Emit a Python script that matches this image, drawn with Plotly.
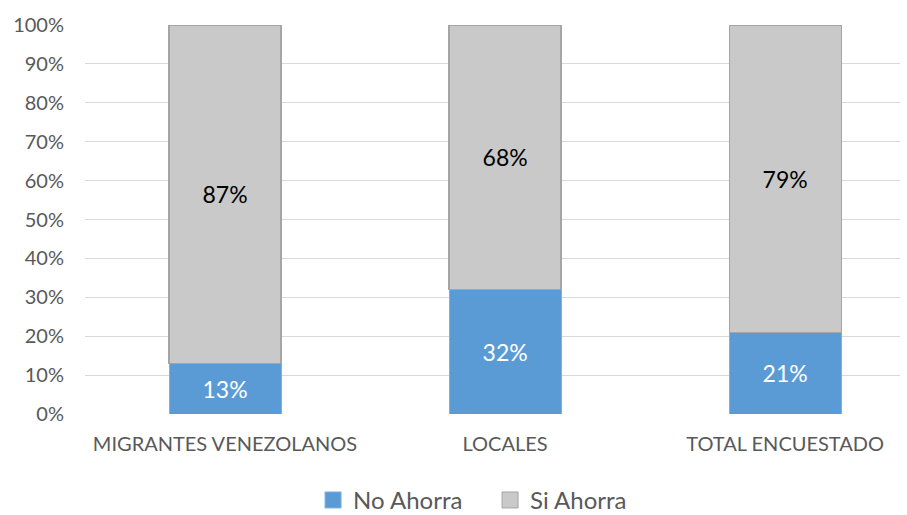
import plotly.graph_objects as go

categories = ["MIGRANTES VENEZOLANOS", "LOCALES", "TOTAL ENCUESTADO"]
no_ahorra = [13, 32, 21]
si_ahorra = [87, 68, 79]
tick_vals = [0, 10, 20, 30, 40, 50, 60, 70, 80, 90, 100]
tick_text = [f"{v}%" for v in tick_vals]

FONT = "Lato, 'Open Sans', sans-serif"
x = list(range(len(categories)))

fig = go.Figure()
fig.add_trace(go.Bar(
    x=x, y=no_ahorra, name="No Ahorra", width=0.4, showlegend=False,
    marker=dict(color="#5b9bd5", line=dict(color="#7fb0de", width=1)),
    text=[f"{v}%" for v in no_ahorra], textposition="inside",
    insidetextanchor="middle", constraintext="none",
    textfont=dict(color="white", size=23, family=FONT),
))
fig.add_trace(go.Bar(
    x=x, y=si_ahorra, name="Si Ahorra", width=0.4, showlegend=False,
    marker=dict(color="#c9c9c9", line=dict(color="#a5a5a5", width=1.3)),
    text=[f"{v}%" for v in si_ahorra], textposition="inside",
    insidetextanchor="middle", constraintext="none",
    textfont=dict(color="black", size=23, family=FONT),
))
# legend entries
fig.add_trace(go.Scatter(x=[None], y=[None], mode="markers", name="No Ahorra",
                         marker=dict(symbol="square", size=17, color="#5b9bd5",
                                     line=dict(color="#7fb0de", width=1))))
fig.add_trace(go.Scatter(x=[None], y=[None], mode="markers", name="Si Ahorra",
                         marker=dict(symbol="square", size=17, color="#c9c9c9",
                                     line=dict(color="#a5a5a5", width=1))))

fig.update_layout(
    barmode="stack",
    width=907, height=515,
    margin=dict(l=85, r=7, t=25, b=101, autoexpand=False),
    paper_bgcolor="white", plot_bgcolor="white",
    font=dict(family=FONT, color="#595959", size=20),
    showlegend=True,
    legend=dict(orientation="h", x=0.497, xanchor="center", y=-0.222, yanchor="middle",
                font=dict(size=24, color="#595959"), traceorder="normal",
                itemwidth=30, entrywidth=132, entrywidthmode="pixels",
                bgcolor="rgba(0,0,0,0)"),
    xaxis=dict(tickmode="array", tickvals=x, ticktext=categories, automargin=False,
               range=[-0.5, 2.41], showgrid=False, zeroline=False, showline=False,
               ticks="", ticklabelstandoff=16, tickfont=dict(size=20, color="#595959")),
    yaxis=dict(range=[0, 100], tickmode="array", tickvals=tick_vals, ticktext=tick_text,
               automargin=False,
               showgrid=True, gridcolor="#d9d9d9", gridwidth=1.3, zeroline=False,
               showline=False, ticks="", ticklabelstandoff=20,
               tickfont=dict(size=20, color="#595959")),
)
fig.write_html("out.html", config={"displayModeBar": False},
               post_script="document.body.style.margin='0';")
